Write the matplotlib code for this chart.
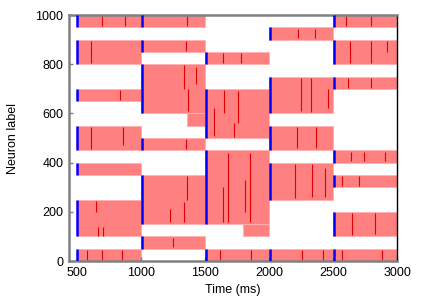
import matplotlib
matplotlib.use("Agg")
import matplotlib.pyplot as plt

plt.rcParams['font.family'] = ['Liberation Sans', 'DejaVu Sans']

# Segment start times (ms), each lasting 500 ms
seg_starts = [500, 1000, 1500, 2000, 2500]
seg_len = 500

# Active neuron ranges (low, high) per segment
seg_blocks = [
    [(0, 50), (100, 250), (350, 400), (450, 550), (650, 700), (800, 900), (950, 1000)],
    [(50, 100), (150, 350), (450, 500), (600, 800), (850, 900), (950, 1000)],
    [(0, 50), (150, 450), (500, 700), (800, 850)],
    [(0, 50), (250, 400), (450, 550), (600, 750), (900, 950)],
    [(0, 50), (100, 200), (300, 350), (400, 450), (700, 750), (800, 900), (950, 1000)],
]

# Late-onset partial blocks (t_start, t_end, low, high) - no cue line
partial_blocks = [
    (1360, 1500, 550, 600),
    (1800, 2000, 100, 150),
]

# Synchronous spike streaks (time ms, low, high)
streaks = [
    (700, 955, 995), (880, 955, 995), (610, 805, 895), (840, 655, 695),
    (610, 455, 545), (860, 470, 545), (650, 200, 245), (665, 100, 140),
    (705, 100, 140), (580, 5, 45), (695, 5, 45), (850, 5, 45),
    (1360, 955, 995), (1350, 855, 895), (1340, 700, 795), (1370, 610, 700),
    (1430, 720, 790), (1350, 455, 495), (1360, 250, 345), (1340, 160, 240),
    (1230, 160, 210), (1250, 55, 95),
    (1640, 805, 845), (1780, 805, 845), (1650, 600, 695), (1760, 560, 690),
    (1570, 510, 620), (1730, 505, 560), (1680, 160, 440), (1640, 160, 300),
    (1850, 160, 440), (1810, 200, 330), (1620, 5, 45), (1860, 5, 45),
    (2230, 905, 945), (2360, 905, 945), (2330, 605, 745), (2250, 610, 745),
    (2460, 620, 700), (2220, 460, 545), (2370, 460, 545), (2200, 255, 395),
    (2340, 260, 395), (2440, 260, 380), (2260, 5, 45), (2420, 5, 45),
    (2600, 955, 995), (2800, 955, 995), (2630, 805, 895), (2800, 805, 895),
    (2920, 850, 895), (2620, 705, 745), (2800, 705, 745), (2640, 405, 445),
    (2740, 405, 445), (2910, 405, 445), (2570, 305, 345), (2700, 305, 345),
    (2650, 105, 195), (2830, 110, 195), (2570, 5, 45), (2880, 5, 45),
]

xticks = [500, 1000, 1500, 2000, 2500, 3000]
yticks = [0, 200, 400, 600, 800, 1000]

fig = plt.figure(figsize=(4.21, 3.01), dpi=100)
ax = fig.add_axes([69 / 421, 1 - 261 / 301, 328 / 421, 246 / 301])

pink = '#ff8080'
for t0, blocks in zip(seg_starts, seg_blocks):
    for lo, hi in blocks:
        ax.barh(lo, seg_len, height=hi - lo, left=t0, align='edge',
                color=pink, edgecolor='#ffb0b0', linewidth=0.6, zorder=1)
        ax.vlines(t0 + 6, lo, hi, color='#0000ff', linewidth=1.8, zorder=3)

for ts, te, lo, hi in partial_blocks:
    ax.barh(lo, te - ts, height=hi - lo, left=ts, align='edge',
            color=pink, edgecolor='#ffb0b0', linewidth=0.6, zorder=1)

for t, lo, hi in streaks:
    ax.vlines(t, lo, hi, color='#e00000', linewidth=0.8, zorder=2)

ax.set_xlim(440, 3000)
ax.set_ylim(0, 1000)
ax.set_xticks(xticks)
ax.set_yticks(yticks)
ax.tick_params(direction='in', length=3, width=1, colors='#808080',
               labelcolor='black', labelsize=9, pad=4)

for side in ['left', 'bottom', 'top']:
    ax.spines[side].set_color('#808080')
    ax.spines[side].set_linewidth(1.8)
ax.spines['right'].set_color('black')
ax.spines['right'].set_linewidth(1.0)

ax.set_xlabel('Time (ms)', fontsize=9, labelpad=4)
ax.set_ylabel('Neuron label', fontsize=9, labelpad=12)

fig.savefig('out.png', dpi=100)
